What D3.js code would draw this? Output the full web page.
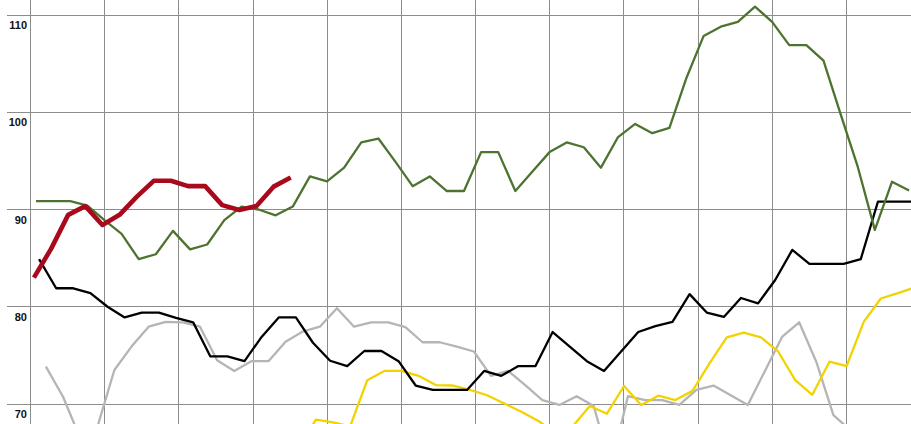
<!DOCTYPE html>
<html>
<head>
<meta charset="utf-8">
<script src="https://cdn.jsdelivr.net/npm/d3@7"></script>
<style>
html,body{margin:0;padding:0;background:#fff;overflow:hidden;}
svg{display:block;}
</style>
</head>
<body>
<svg id="chart" width="911" height="424"></svg>
<script>
// ---- data ----
const yTicks = [70, 80, 90, 100, 110];
const monthCount = 12;

// weekly values; firstDay = day of year of first value
const grayFirstDay = 6.3;
const gray = [73.85, 70.75, 66.5, 67.6, 73.5, 75.9, 77.95, 78.45, 78.4, 77.95,
  74.5, 73.4, 74.4, 74.4, 76.4, 77.45, 77.95, 79.85, 77.95, 78.4,
  78.4, 77.9, 76.35, 76.35, 75.9, 75.4, 72.9, 73.4, 71.95, 70.4,
  69.9, 70.8, 69.8, 63.5, 70.8, 70.4, 70.4, 69.9, 71.45, 71.9,
  70.9, 69.9, 73.4, 76.9, 78.4, 74.35, 68.85, 67.3];

const yellowFirstDay = 4.7 + 15 * 7;
const yellow = [65.5, 68.4, 68.1, 67.7, 72.45, 73.4, 73.4, 72.9, 71.95, 71.9,
  71.45, 70.9, 70.05, 69.2, 68.25, 67.0, 67.7, 69.8, 69.0, 71.85,
  69.9, 70.85, 70.4, 71.35, 74.2, 76.85, 77.35, 76.85, 75.4, 72.45,
  70.95, 74.35, 73.9, 78.45, 80.85, 81.4, 82.0];

const blackFirstDay = 3.5;
const black = [84.9, 81.9, 81.9, 81.4, 80.0, 78.9, 79.4, 79.4, 78.85, 78.4,
  74.9, 74.9, 74.4, 76.9, 78.9, 78.9, 76.3, 74.45, 73.9, 75.45,
  75.45, 74.4, 71.9, 71.45, 71.45, 71.45, 73.4, 72.9, 73.9, 73.9,
  77.4, 75.9, 74.4, 73.4, 75.4, 77.4, 78.0, 78.45, 81.3, 79.4,
  78.95, 80.9, 80.35, 82.75, 85.85, 84.4, 84.4, 84.4, 84.9, 90.8,
  90.8, 90.8];

const greenFirstDay = 2.25;
const green = [90.87, 90.87, 90.87, 90.4, 88.9, 87.5, 84.9, 85.4, 87.8, 85.9,
  86.4, 88.9, 90.3, 90.0, 89.4, 90.3, 93.4, 92.9, 94.3, 96.9,
  97.3, 94.9, 92.4, 93.4, 91.9, 91.9, 95.9, 95.9, 91.9, 93.9,
  95.9, 96.9, 96.4, 94.3, 97.45, 98.8, 97.85, 98.4, 103.55, 107.85,
  108.8, 109.3, 110.85, 109.3, 106.9, 106.9, 105.3, 99.8, 94.4, 87.9,
  92.85, 91.95];

const redFirstDay = 1.4;
const red = [83.0, 85.95, 89.45, 90.35, 88.4, 89.45, 91.3, 92.95, 92.95, 92.4,
  92.4, 90.45, 89.95, 90.35, 92.35, 93.3];

// ---- drawing ----
const svg = d3.select("#chart");
const x = d3.scaleLinear().domain([0, 364]).range([30.5, 920.7]);
const y = d3.scaleLinear().domain([70, 110]).range([404, 15]);

const gridColor = "#8c8c8c";
// horizontal gridlines
svg.append("g").selectAll("line").data(yTicks).join("line")
  .attr("x1", 7).attr("x2", 911)
  .attr("y1", d => Math.floor(y(d)) + 0.5).attr("y2", d => Math.floor(y(d)) + 0.5)
  .attr("stroke", gridColor).attr("stroke-width", 1);
// vertical gridlines (months)
const monthDays = d3.range(monthCount + 1).map(k => k * 364 / monthCount);
svg.append("g").selectAll("line").data(monthDays).join("line")
  .attr("x1", d => Math.floor(x(d)) + 0.5).attr("x2", d => Math.floor(x(d)) + 0.5)
  .attr("y1", 0).attr("y2", 424)
  .attr("stroke", gridColor).attr("stroke-width", 1);
// labels
svg.append("g").selectAll("text").data(yTicks).join("text")
  .attr("x", 27).attr("y", d => y(d) + 14)
  .attr("text-anchor", "end")
  .attr("font-family", "Liberation Sans, Arial, sans-serif")
  .attr("font-weight", "bold").attr("font-size", 11)
  .attr("fill", "#111")
  .text(d => d);

const series = [
  {vals: gray, first: grayFirstDay, color: "#b5b5b5", w: 2.3},
  {vals: yellow, first: yellowFirstDay, color: "#f2d300", w: 2.3},
  {vals: black, first: blackFirstDay, color: "#000000", w: 2.3},
  {vals: green, first: greenFirstDay, color: "#4e7330", w: 2.3},
  {vals: red, first: redFirstDay, color: "#a8091c", w: 4.6}
];
const line = d3.line().x(d => x(d.day)).y(d => y(d.v));
series.forEach(s => {
  const pts = s.vals.map((v, i) => ({day: s.first + i * 7, v}));
  svg.append("path").datum(pts)
    .attr("d", line)
    .attr("fill", "none")
    .attr("stroke", s.color)
    .attr("stroke-width", s.w)
    .attr("stroke-linejoin", "round")
    .attr("stroke-linecap", "butt");
});
</script>
</body>
</html>
